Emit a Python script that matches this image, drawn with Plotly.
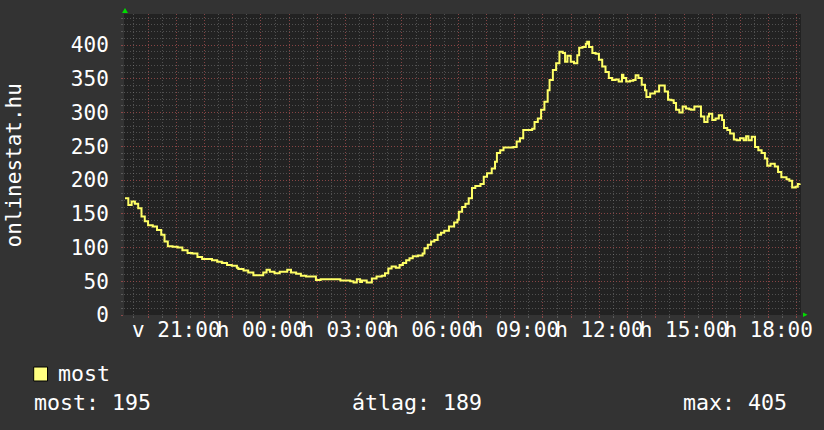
import plotly.graph_objects as go
from datetime import datetime, timedelta

# ---------------- data ----------------
times = [
    "19:11", "19:18", "19:25", "19:32", "19:39", "19:46", "19:53", "20:00", "20:10", "20:19",
    "20:28", "20:35", "20:42", "20:52", "21:03", "21:13", "21:24", "21:34", "21:45", "21:55",
    "22:06", "22:16", "22:27", "22:37", "22:48", "22:58", "23:09", "23:12", "23:23", "23:33",
    "23:44", "23:54", "00:05", "00:12", "00:19", "00:29", "00:40", "00:50", "00:56", "01:04",
    "01:15", "01:25", "01:36", "01:46", "01:57", "02:07", "02:18", "02:28", "02:39", "02:49",
    "03:00", "03:10", "03:17", "03:24", "03:31", "03:35", "03:45", "03:52", "03:56", "04:06",
    "04:17", "04:24", "04:31", "04:38", "04:47", "04:55", "05:02", "05:09", "05:16", "05:23",
    "05:34", "05:44", "05:48", "05:55", "06:02", "06:09", "06:16", "06:23", "06:30", "06:40",
    "06:51", "06:58", "07:01", "07:08", "07:15", "07:22", "07:29", "07:36", "07:47", "07:54",
    "08:01", "08:11", "08:18", "08:22", "08:29", "08:36", "08:46", "08:57", "09:04", "09:11",
    "09:18", "09:28", "09:37", "09:42", "09:49", "09:56", "10:03", "10:10", "10:14", "10:21",
    "10:28", "10:35", "10:42", "10:47", "10:52", "10:59", "11:06", "11:13", "11:17", "11:24",
    "11:31", "11:34", "11:38", "11:45", "11:52", "11:59", "12:06", "12:13", "12:20", "12:27",
    "12:34", "12:41", "12:48", "12:51", "12:57", "13:05", "13:12", "13:17", "13:23", "13:30",
    "13:37", "13:40", "13:48", "13:58", "14:07", "14:14", "14:19", "14:26", "14:33", "14:38",
    "14:43", "14:50", "14:57", "15:04", "15:11", "15:15", "15:22", "15:29", "15:36", "15:43",
    "15:50", "15:53", "16:00", "16:07", "16:14", "16:21", "16:25", "16:32", "16:38", "16:46",
    "16:52", "16:59", "17:07", "17:12", "17:17", "17:24", "17:31", "17:38", "17:45", "17:52",
    "17:57", "18:04", "18:13", "18:20", "18:27", "18:38", "18:44", "18:50", "18:57", "19:02",
    "19:06",
]
values = [
    173, 163, 168, 165, 158, 146, 139, 133, 131, 126,
    119, 109, 102, 101, 100, 96, 92, 91, 86, 83,
    83, 81, 79, 77, 74, 73, 70, 68, 66, 63,
    59, 59, 63, 67, 64, 62, 64, 64, 67, 63,
    61, 58, 57, 57, 52, 53, 53, 53, 53, 51,
    51, 50, 48, 53, 49, 51, 48, 48, 54, 57,
    58, 62, 69, 72, 70, 74, 77, 81, 84, 87,
    88, 91, 99, 104, 109, 111, 119, 122, 125, 131,
    137, 141, 153, 160, 165, 173, 188, 191, 194, 205,
    210, 217, 227, 240, 244, 248, 248, 249, 257, 262,
    274, 274, 276, 286, 291, 304, 316, 333, 348, 363,
    373, 390, 388, 375, 384, 375, 373, 385, 396, 397,
    402, 405, 397, 388, 387, 378, 368, 360, 351, 348,
    349, 346, 356, 351, 346, 347, 348, 355, 351, 341,
    333, 323, 328, 331, 340, 340, 331, 319, 318, 314,
    304, 300, 309, 306, 305, 304, 309, 309, 294, 286,
    294, 298, 289, 291, 296, 289, 277, 274, 269, 260,
    259, 262, 259, 265, 259, 264, 249, 244, 240, 232,
    221, 224, 220, 212, 204, 201, 199, 189, 190, 194,
    195,
]
series_name = "most"
start_day = "2024-01-07"          # a Sunday ("v"), next day Monday ("h")
window_start = "2024-01-07 19:08:48"
window_end = "2024-01-08 19:08:48"
x_tick_times = ["2024-01-07 21:00", "2024-01-08 00:00", "2024-01-08 03:00", "2024-01-08 06:00",
                "2024-01-08 09:00", "2024-01-08 12:00", "2024-01-08 15:00", "2024-01-08 18:00"]
x_tick_labels = ["v 21:00", "h 00:00", "h 03:00", "h 06:00", "h 09:00", "h 12:00", "h 15:00", "h 18:00"]
y_tick_values = [0, 50, 100, 150, 200, 250, 300, 350, 400]
y_title = "onlinestat.hu"
stat_texts = ["most: 195", "átlag: 189", "max: 405"]

# ---------------- build timestamps ----------------
day = datetime.strptime(start_day, "%Y-%m-%d")
stamps = []
prev = None
for t in times:
    hh, mm = map(int, t.split(":"))
    cur = hh * 60 + mm
    if prev is not None and cur < prev:
        day = day + timedelta(days=1)
    prev = cur
    stamps.append(day + timedelta(minutes=cur))

t0 = datetime.strptime(window_start, "%Y-%m-%d %H:%M:%S")
hour_ticks = []
h = t0.replace(minute=0, second=0) + timedelta(hours=1)
while h <= datetime.strptime(window_end, "%Y-%m-%d %H:%M:%S"):
    hour_ticks.append(h)
    h += timedelta(hours=1)
label_map = {datetime.strptime(a, "%Y-%m-%d %H:%M"): b for a, b in zip(x_tick_times, x_tick_labels)}
hour_text = [label_map.get(v, "") for v in hour_ticks]

# ---------------- geometry / style ----------------
W, H = 824, 430
PL, PR, PT, PB = 124, 810, 14, 315
PW, PH = PR - PL, PB - PT
FONT = "DejaVu Sans Mono"
FS = 21
FS_LEG = 21.6
BG = "#333333"
CANVAS = "#222222"
MGRID = "rgba(170,60,60,0.6)"
GRID = "rgba(150,150,150,0.4)"
LINE = "#FFFF66"


def px(x):
    return (x - PL) / PW


def py(y):
    return (PB - y) / PH


fig = go.Figure()
fig.add_trace(go.Scatter(
    x=stamps, y=values, mode="lines", name=series_name,
    line=dict(color=LINE, width=2, shape="hv"),
    showlegend=False, hoverinfo="skip",
))

fig.update_layout(
    width=W, height=H,
    margin=dict(l=PL, r=W - PR, t=PT, b=H - PB, pad=0),
    paper_bgcolor=BG, plot_bgcolor=CANVAS,
    font=dict(family=FONT, size=FS, color="#FFFFFF"),
    showlegend=False,
    xaxis=dict(
        type="date", range=[window_start, window_end],
        tickmode="array", tickvals=hour_ticks, ticktext=hour_text,
        tickangle=0, ticklabeloverflow="allow",
        showgrid=True, gridcolor=MGRID, griddash="1px,2px", gridwidth=1,
        ticks="outside", ticklen=2, tickcolor=MGRID, tickwidth=1,
        minor=dict(dtick=30 * 60 * 1000, showgrid=True, gridcolor=GRID,
                   griddash="1px,2px", gridwidth=1, ticks="outside", ticklen=2, tickcolor=GRID),
        zeroline=False, showline=False, fixedrange=True,
        tickfont=dict(family=FONT, size=FS, color="#FFFFFF"),
        ticklabelstandoff=-6,
    ),
    yaxis=dict(
        range=[0, PH / 0.675],
        tickmode="array", tickvals=y_tick_values, ticktext=[str(v) for v in y_tick_values],
        showgrid=True, gridcolor=MGRID, griddash="1px,2px", gridwidth=1,
        ticks="outside", ticklen=2, tickcolor=MGRID,
        minor=dict(dtick=10, showgrid=True, gridcolor=GRID, griddash="1px,2px", gridwidth=1,
                   ticks="outside", ticklen=2, tickcolor=GRID),
        zeroline=False, showline=False, fixedrange=True,
        tickfont=dict(family=FONT, size=FS, color="#FFFFFF"),
        ticklabelstandoff=8,
    ),
)

# arrows
fig.add_shape(type="path", xref="paper", yref="paper", xsizemode="pixel", ysizemode="pixel",
              xanchor=0, yanchor=1, path="M -2,1 L 4,1 L 1,6 Z",
              fillcolor="#00DD00", line=dict(width=0))
fig.add_shape(type="path", xref="paper", yref="paper", xsizemode="pixel", ysizemode="pixel",
              xanchor=1, yanchor=0, path="M 2,2.5 L 2,-2 L 6.5,0.3 Z",
              fillcolor="#00DD00", line=dict(width=0))

# y title
fig.add_annotation(text=y_title, xref="paper", yref="paper", x=px(13), y=py(165),
                   xanchor="center", yanchor="middle", textangle=-90, showarrow=False,
                   font=dict(family=FONT, size=FS, color="#FFFFFF"))

# legend box + labels
fig.add_shape(type="rect", xref="paper", yref="paper", x0=px(32.5), x1=px(46.5), y0=py(381), y1=py(367),
              fillcolor="#FFFF80", line=dict(color="#000000", width=1))
fig.add_annotation(text=series_name, xref="paper", yref="paper", x=px(55), y=py(373),
                   xanchor="left", yanchor="middle", showarrow=False,
                   font=dict(family=FONT, size=FS_LEG, color="#FFFFFF"))
for txt, xpos in zip(stat_texts, [31, 353, 688]):
    fig.add_annotation(text=txt, xref="paper", yref="paper", x=px(xpos), y=py(402),
                       xanchor="left", yanchor="middle", showarrow=False,
                       font=dict(family=FONT, size=FS_LEG, color="#FFFFFF"))

fig.write_html("out.html", config={"displayModeBar": False},
               post_script="document.body.style.margin='0';document.body.style.overflow='hidden';")
